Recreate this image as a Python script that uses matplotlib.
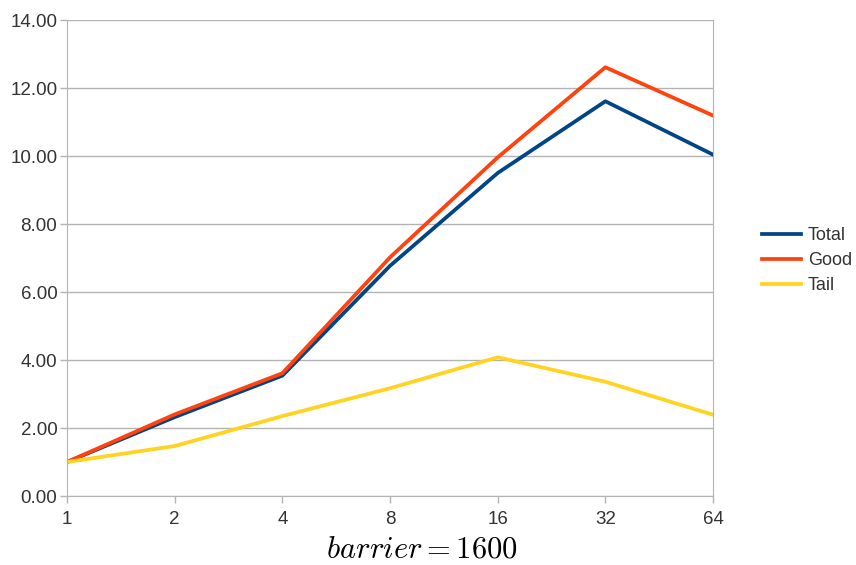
import numpy as np
import matplotlib.pyplot as plt

plt.rcParams['font.family'] = ['Liberation Sans', 'DejaVu Sans']
plt.rcParams['mathtext.fontset'] = 'cm'

# data
threads = [1, 2, 4, 8, 16, 32, 64]
total = [1.00, 2.32, 3.54, 6.77, 9.50, 11.61, 10.04]
good = [1.00, 2.40, 3.61, 7.02, 9.96, 12.61, 11.19]
tail = [1.00, 1.47, 2.35, 3.17, 4.08, 3.36, 2.39]

fig = plt.figure(figsize=(8.56, 5.65), dpi=100)
ax = fig.add_axes([0.0783, 0.1221, 0.7547, 0.8425])

x = np.arange(len(threads))
ax.plot(x, total, color='#004586', lw=2.7, label='Total')
ax.plot(x, good, color='#ff420e', lw=2.7, label='Good')
ax.plot(x, tail, color='#ffd320', lw=2.7, label='Tail')

ax.set_xlim(0, len(threads) - 1)
ax.set_ylim(0, 14)
ax.set_xticks(x)
ax.set_xticklabels([str(t) for t in threads])
ax.set_yticks(np.arange(0, 15, 2))
ax.set_yticklabels(['%.2f' % v for v in np.arange(0, 15, 2)])
ax.yaxis.grid(True, color='#b3b3b3', lw=1)
ax.set_axisbelow(True)
ax.tick_params(colors='#b3b3b3', labelcolor='#333333', labelsize=13.5,
               length=5, width=1)
ax.tick_params(axis='x', pad=6)
ax.tick_params(axis='y', pad=2)
for s in ['left', 'bottom', 'right']:
    ax.spines[s].set_color('#b3b3b3')
ax.spines['top'].set_visible(False)

fig.text(0.493, 0.0, r'$barrier = 1600$', fontsize=22, ha='center', va='bottom')

ax.legend(loc='center left', bbox_to_anchor=(1.064, 0.494), frameon=False,
          fontsize=13, handlelength=2.2, handletextpad=0.35, labelspacing=0.45,
          labelcolor='#333333', borderaxespad=0)

plt.savefig('out.png')
